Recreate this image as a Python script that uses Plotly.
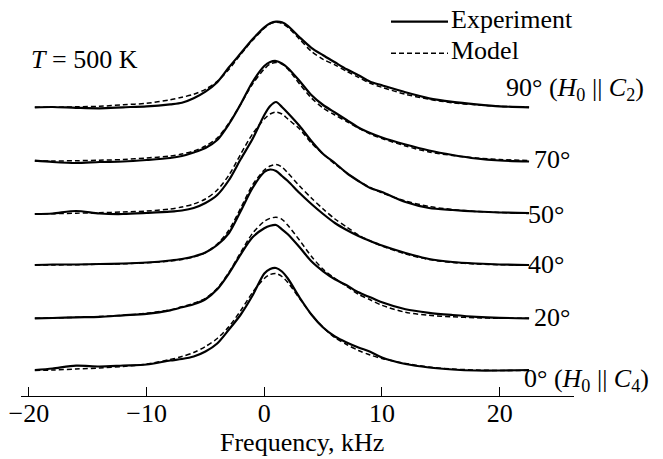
import numpy as np
import plotly.graph_objects as go

# ---- data ----
freq = [-19.5, -18, -16, -14, -12, -10, -8, -7, -6, -5, -4, -3, -2, -1, 0, 0.5, 1, 1.5,
        2, 3, 4, 5, 6, 7, 8, 9, 10, 12, 14, 16, 18, 20, 22.5]

angles = ["0°", "20°", "40°", "50°", "70°", "90°"]
offsets = [25.5, 77.7, 131.0, 182.0, 235.0, 288.7]

exp_0 = [0.5, 2, 4.8, 4, 5, 6, 10, 11.5, 14, 19, 27, 41, 56, 75, 97, 101.5, 102.5, 99,
         92, 73, 56, 43, 34, 28, 23, 18.8, 13, 6.5, 3, 1, 0, 0, 0.5]
mod_0 = [0, 0.5, 1.5, 2.5, 4, 6.5, 11, 14, 18, 24, 32, 44, 60, 78, 92, 96, 97, 94,
         88, 72, 56, 43, 33, 26, 20, 15.5, 12, 7, 3.5, 1.5, 0.5, 0, 0]

exp_20 = [0, 0.3, 1, 1.5, 3, 4.5, 8, 11, 14, 19, 29, 45, 64, 81, 90, 92.5, 93.3, 89,
          84, 71, 57, 47, 39, 33, 26, 21, 16, 9, 5.5, 3.3, 1.5, 0.5, 0]
mod_20 = [0, 0.3, 1, 1.8, 3, 5, 8.5, 11.5, 15, 20, 30, 46, 66, 85, 97, 100, 101, 99,
          93, 78, 62, 49, 40, 32, 24, 18.5, 13, 6, 3, 1.5, 0.5, 0, 0]

exp_40 = [0, 0.5, 0.5, 1, 1.5, 2.5, 4.5, 6, 8.5, 12.5, 20, 32, 54, 77, 93, 95.5, 94, 89,
          84, 72, 61, 51, 42, 35, 29, 24, 19.5, 12, 6, 3, 1.5, 0.5, 0]
mod_40 = [0, 0, 0.3, 0.7, 1.2, 2.2, 4, 5.5, 8, 12.5, 21, 35, 57, 80, 95, 99, 100.5, 98,
          92, 79, 67, 56, 46, 38, 30, 24, 19, 11, 5.5, 2.5, 1, 0.3, 0]

exp_50 = [0, 0.5, 3, 0.5, 0, 1, 2.3, 3.5, 6, 11, 19, 34, 55, 75, 99, 108, 112, 107,
          101, 88, 73, 60, 51, 41, 33, 26, 22, 12, 6, 4, 2.5, 1.5, 1]
mod_50 = [0, 0.3, 0.8, 1.3, 2, 3, 5, 7, 10, 15, 24, 39, 60, 80, 95, 100, 102, 100,
          95, 85, 71, 60, 50, 41, 33, 26.5, 21, 13, 7.5, 4.5, 2.5, 1.5, 0.5]

exp_70 = [0.3, -1, -2, -1, -0.5, 1, 3, 5, 8.5, 13, 21, 37, 57, 79, 95, 99, 100, 97.5,
          93, 80, 66, 56, 48.5, 41, 33.5, 28, 23.5, 16.5, 10.5, 6, 2.5, 0.5, -0.5]
mod_70 = [0, 0, 0.3, 0.8, 1.5, 3, 5, 7, 10, 15, 23, 38, 57, 77, 92, 97, 98.5, 97,
          92, 77, 63, 53, 46, 39.5, 33, 27, 22.5, 15, 9, 5.5, 3, 1.5, 0.5]

exp_90 = [0, 0.3, -0.5, -1, 0, 1, 3, 4.5, 9, 15.6, 25, 40, 54, 68, 80, 84, 85.6, 85,
          81.5, 70, 59.5, 52, 45, 38, 32, 25.6, 22, 15, 9, 5.5, 3, 1, 0]
mod_90 = [0, 0, 0.5, 1, 2.5, 4, 7.5, 10, 13, 18, 26, 38, 53, 67, 79, 83.5, 85, 84,
          80, 68, 56, 48, 42.5, 36, 30, 24, 20, 13, 8, 4.5, 2.5, 1, 0]

experiment = [exp_0, exp_20, exp_40, exp_50, exp_70, exp_90]
model = [mod_0, mod_20, mod_40, mod_50, mod_70, mod_90]

label_texts = ["0° (<i>H</i><sub>0</sub> || <i>C</i><sub>4</sub>)", "20°", "40°", "50°", "70°",
               "90° (<i>H</i><sub>0</sub> || <i>C</i><sub>2</sub>)"]
x_ticks = [-20, -10, 0, 10, 20]
legend_names = ["Experiment", "Model"]

# ---- styles ----
FONT = "Liberation Serif, Times New Roman, serif"
EXP_LINE = dict(color="black", width=2.2)
MOD_LINE = dict(color="black", width=1.5, dash="5px,3px")

fig = go.Figure()
for i, ang in enumerate(angles):
    off = offsets[i]
    fig.add_trace(go.Scatter(
        x=freq, y=np.array(model[i]) + off, mode="lines", name=legend_names[1],
        line=dict(**MOD_LINE, shape="spline", smoothing=0.8), showlegend=False))
    fig.add_trace(go.Scatter(
        x=freq, y=np.array(experiment[i]) + off, mode="lines", name=legend_names[0],
        line=dict(**EXP_LINE, shape="spline", smoothing=0.8), showlegend=False))

# pixel helpers (plot area: x 21..574 px, y 0..396 px)
PX0, PX1, PH = 21, 574, 396
XR = [-20.675, 26.318]
def px_x(px):
    return (px - PX0) / (PX1 - PX0)
def px_y(py):
    return (PH - py) / PH

ann = []
ann.append(dict(x=px_x(29), y=px_y(59), text="<i>T</i> = 500 K", xanchor="left", yanchor="middle"))
label_pos = [(522, 380), (532, 317.5), (526, 264.5), (526, 214.5), (532, 159.5), (504, 88.5)]
for txt, (px, py) in zip(label_texts, label_pos):
    ann.append(dict(x=px_x(px), y=px_y(py), text=txt, xanchor="left", yanchor="middle"))
ann.append(dict(x=px_x(301.5), y=px_y(442), text="Frequency, kHz", xanchor="center", yanchor="middle"))

# legend (drawn by hand: line sample + label)
shapes = []
for name, line, py_line, py_text in [(legend_names[0], EXP_LINE, 21.7, 19.0),
                                     (legend_names[1], MOD_LINE, 53.3, 50.5)]:
    shapes.append(dict(type="line", xref="paper", yref="paper",
                       x0=px_x(391), x1=px_x(448), y0=px_y(py_line), y1=px_y(py_line),
                       line=line))
    ann.append(dict(x=px_x(449), y=px_y(py_text), text=name, xanchor="left", yanchor="middle"))

for a in ann:
    a.update(xref="paper", yref="paper", showarrow=False,
             font=dict(family=FONT, size=26, color="black"))

fig.update_layout(
    width=663, height=459,
    margin=dict(l=PX0, r=663 - PX1, t=0, b=459 - PH),
    paper_bgcolor="white", plot_bgcolor="white",
    font=dict(family=FONT, size=26, color="black"),
    showlegend=False,
    xaxis=dict(range=XR, tickvals=x_ticks, ticks="inside", ticklen=9,
               tickwidth=1.3, tickcolor="black", showline=True, linecolor="black",
               linewidth=1.3, showgrid=False, zeroline=False, ticklabelstandoff=-6,
               tickfont=dict(family=FONT, size=26, color="black")),
    yaxis=dict(range=[0, PH], visible=False, showgrid=False, zeroline=False),
    annotations=ann,
    shapes=shapes,
)
fig.write_html("out.html")
